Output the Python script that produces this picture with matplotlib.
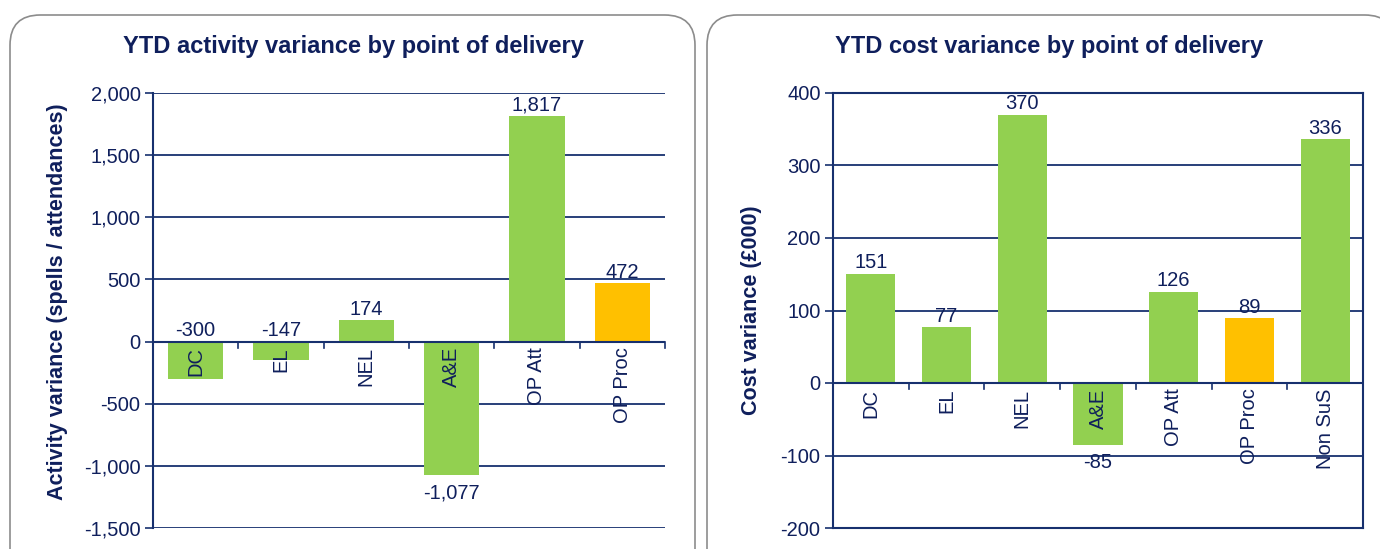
import matplotlib.pyplot as plt
from matplotlib.patches import FancyBboxPatch

# left chart data
act_cats = ['DC', 'EL', 'NEL', 'A&E', 'OP Att', 'OP Proc']
act_vals = [-300, -147, 174, -1077, 1817, 472]
act_labels = ['-300', '-147', '174', '-1,077', '1,817', '472']

# right chart data
cost_cats = ['DC', 'EL', 'NEL', 'A&E', 'OP Att', 'OP Proc', 'Non SuS']
cost_vals = [151, 77, 370, -85, 126, 89, 336]

GREEN = '#92D050'
AMBER = '#FFC000'
NAVY = '#0F1F5C'
GRID = '#17306E'

plt.rcParams['font.family'] = ['Liberation Sans', 'DejaVu Sans']
plt.rcParams['axes.unicode_minus'] = False

fig = plt.figure(figsize=(13.8, 5.49), dpi=100)

# rounded panel frames
for x0, x1 in [(10, 695), (707, 1395)]:
    box = FancyBboxPatch((x0 / 1380, -0.1), (x1 - x0) / 1380, 534 / 549 + 0.1,
                         boxstyle='round,pad=0,rounding_size=0.022',
                         transform=fig.transFigure, facecolor='white',
                         edgecolor='#8C8C8C', linewidth=1.2, mutation_aspect=2.5,
                         zorder=-10)
    fig.patches.append(box)

FS = 14.5


def draw(ax, cats, vals, labels, ylim, step, ylabel, boxed, fmt_comma, lab_x, lab_y):
    colors = [AMBER if c == 'OP Proc' else GREEN for c in cats]
    x = range(len(cats))
    span = ylim[1] - ylim[0]
    ax.patch.set_alpha(0)
    ax.bar(x, vals, width=0.65, color=colors, zorder=3)
    ax.set_xlim(-0.5, len(cats) - 0.5)
    ax.set_ylim(*ylim)
    ticks = list(range(ylim[0], ylim[1] + 1, step))
    ax.set_yticks(ticks)
    if fmt_comma:
        ax.set_yticklabels([f'{t:,}' for t in ticks])
    ax.yaxis.grid(True, color=GRID, linewidth=1.3, zorder=1)
    ax.set_axisbelow(True)
    ax.tick_params(axis='y', colors=GRID, labelcolor=NAVY, labelsize=FS,
                   length=6, width=1.2, direction='out', pad=3)
    ax.set_xticks([])
    # category boundary ticks on zero line
    for b in range(1, len(cats) + 1):
        ax.plot([b - 0.5, b - 0.5], [0, -span * 0.014], color=GRID,
                linewidth=1.2, zorder=4, clip_on=False)
    ax.axhline(0, color=GRID, linewidth=1.5, zorder=4)
    for s in ['top', 'bottom', 'right']:
        ax.spines[s].set_visible(boxed)
        ax.spines[s].set_color(GRID)
        ax.spines[s].set_linewidth(1.5)
    ax.spines['left'].set_color(GRID)
    ax.spines['left'].set_linewidth(1.5)
    # category names inside plot, below zero
    for i, c in enumerate(cats):
        ax.annotate(c, (i, 0), xytext=(0, -4), textcoords='offset points',
                    rotation=90, ha='center', va='top', fontsize=FS,
                    color=NAVY, zorder=5)
    # value labels
    for i, (v, lab) in enumerate(zip(vals, labels)):
        if v >= 0:
            ax.annotate(lab, (i, v), xytext=(0, 1), textcoords='offset points',
                        ha='center', va='bottom', fontsize=FS, color=NAVY, zorder=5)
        elif abs(v) > span * 0.1:
            ax.annotate(lab, (i, v), xytext=(0, -6), textcoords='offset points',
                        ha='center', va='top', fontsize=FS, color=NAVY, zorder=5)
        else:
            ax.annotate(lab, (i, 0), xytext=(0, 1), textcoords='offset points',
                        ha='center', va='bottom', fontsize=FS, color=NAVY, zorder=5)
    ax.set_ylabel(ylabel, fontsize=15.5, fontweight='bold', color=NAVY)
    ax.yaxis.set_label_coords(lab_x, lab_y)


ax1 = fig.add_axes([153 / 1380, 21 / 549, 512 / 1380, 435 / 549])
draw(ax1, act_cats, act_vals, act_labels, (-1500, 2000), 500,
     'Activity variance (spells / attendances)', False, True, -0.166, 0.52)

ax2 = fig.add_axes([833 / 1380, 21 / 549, 530 / 1380, 435 / 549])
cost_labels = [str(v) for v in cost_vals]
draw(ax2, cost_cats, cost_vals, cost_labels, (-200, 400), 100,
     'Cost variance (£000)', True, False, -0.134, 0.50)

fig.text(353 / 1380, 1 - 47 / 549, 'YTD activity variance by point of delivery',
         ha='center', va='center', fontsize=17, fontweight='bold', color=NAVY)
fig.text(1049 / 1380, 1 - 47 / 549, 'YTD cost variance by point of delivery',
         ha='center', va='center', fontsize=17, fontweight='bold', color=NAVY)

fig.savefig('out.png', dpi=100)
